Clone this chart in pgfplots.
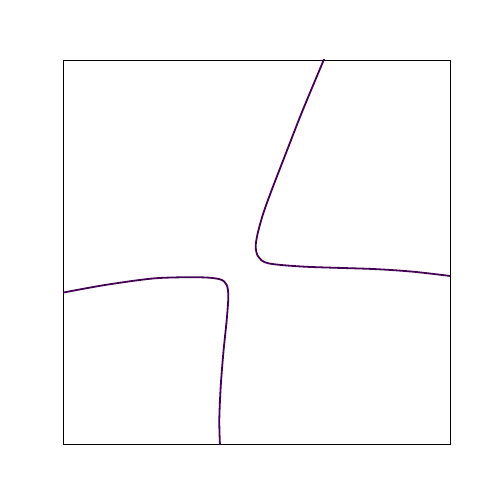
\documentclass[border=0pt]{standalone}
\usepackage{pgfplots}
\pgfplotsset{compat=1.18}
\definecolor{vir}{HTML}{440154}
\begin{document}
\begin{tikzpicture}[x=1pt,y=1pt]
\useasboundingbox (0,0) rectangle (500,500);
\begin{axis}[
  at={(63pt,56pt)}, anchor=south west,
  width=387pt, height=384pt, scale only axis,
  xmin=63, xmax=450, ymin=60, ymax=444, y dir=reverse,
  xtick=\empty, ytick=\empty,
  axis line style={line width=0.8pt},
  clip=true,
]
\addplot[vir, line width=1.8pt, smooth, tension=0.5] coordinates {
(325,57) (302,112) (283.3,160) (271.7,190) (263.3,213.3) (257.7,233.3) (255.7,246.7) (258.3,256.7) (268.3,263.3) (305,266.7) (373,269) (413,271.7) (452,276.2)
};
\addplot[vir, line width=1.8pt, smooth, tension=0.5] coordinates {
(61,293) (105,285) (155,278.3) (200,277.3) (220,279.3) (226.7,285) (228.3,296.7) (226.7,320) (223.3,353.3) (220.7,386.7) (219.3,420) (220,446)
};
\end{axis}
\end{tikzpicture}
\end{document}
